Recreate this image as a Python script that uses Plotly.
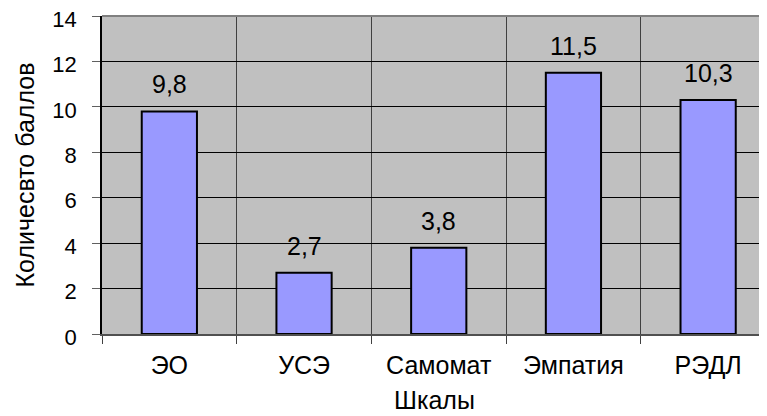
import plotly.graph_objects as go

categories = ["ЭО", "УСЭ", "Самомат", "Эмпатия", "РЭДЛ"]
scores = [9.8, 2.7, 3.8, 11.5, 10.3]
y_ticks = [0, 2, 4, 6, 8, 10, 12, 14]

FONT = "Liberation Sans, Arial, sans-serif"
SIZE = 25

fig = go.Figure(
    go.Bar(
        x=categories,
        y=scores,
        width=0.41,
        marker=dict(color="#9999FF", line=dict(color="#000000", width=2)),
        showlegend=False,
        hoverinfo="x+y",
    )
)

for cat, val in zip(categories, scores):
    fig.add_annotation(
        x=cat, y=val, text=f"{val:.1f}".replace(".", ","),
        showarrow=False, yanchor="bottom", yshift=11,
        font=dict(size=SIZE, color="#000000", family=FONT),
    )

# grey frame line along the top of the plot area
fig.add_shape(
    type="line", xref="paper", yref="paper", x0=0, x1=1, y0=1, y1=1,
    line=dict(color="#808080", width=2),
)

# the page body adds an 8px margin, so the figure is sized to fill 767x416
fig.update_layout(
    width=759,
    height=408,
    margin=dict(l=94, r=0, t=8, b=82),
    paper_bgcolor="#FFFFFF",
    plot_bgcolor="#C0C0C0",
    font=dict(family=FONT, size=SIZE, color="#000000"),
    xaxis=dict(
        range=[-0.5, 4.437],
        automargin=False,
        tickson="boundaries",
        ticks="outside",
        ticklen=8,
        tickcolor="#404040",
        showgrid=True,
        gridcolor="#404040",
        gridwidth=1,
        showline=True,
        linecolor="#505050",
        linewidth=2,
        ticklabelstandoff=8,
        title=dict(text="Шкалы", font=dict(size=SIZE), standoff=13),
        tickfont=dict(size=SIZE),
    ),
    yaxis=dict(
        range=[0, 14],
        automargin=False,
        tickvals=y_ticks,
        ticks="outside",
        ticklen=8,
        tickcolor="#606060",
        showgrid=True,
        gridcolor="#000000",
        gridwidth=1,
        zeroline=False,
        showline=True,
        linecolor="#000000",
        linewidth=1.5,
        ticklabeloverflow="allow",
        ticklabelstandoff=11,
        ticklabelshift=3,
        title=dict(text="Количесвто баллов", font=dict(size=SIZE), standoff=11),
        tickfont=dict(size=22),
    ),
)

fig.write_html("out.html")
